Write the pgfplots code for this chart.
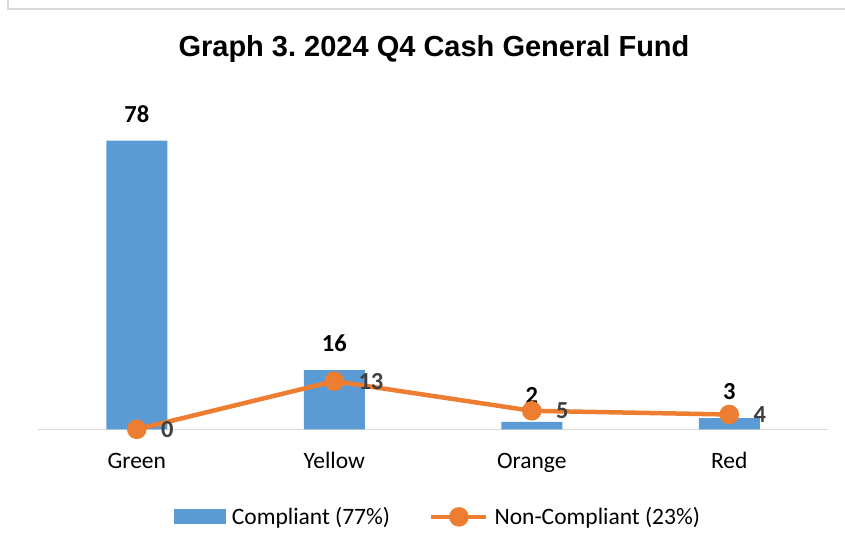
\documentclass[border=0pt]{standalone}
\usepackage{pgfplots}
\pgfplotsset{compat=1.18}
\usepackage{fontspec}
\setmainfont{Carlito}
\newfontfamily\arialfont{Liberation Sans}
\definecolor{cblue}{HTML}{5B9BD5}
\definecolor{corange}{HTML}{ED7D31}
\definecolor{clab}{HTML}{404040}
\definecolor{cgrid}{HTML}{D9D9D9}
\frenchspacing
\begin{document}
\begin{tikzpicture}
\useasboundingbox (0pt,0pt) rectangle (845pt,546pt);
\fill[white] (0pt,0pt) rectangle (845pt,546pt);
\draw[cgrid, line width=1.2pt] (8pt,546pt) -- (8pt,537pt) -- (845pt,537pt);
\node[font=\arialfont\bfseries\fontsize{29}{34}\selectfont, anchor=base, inner sep=0pt] at (434pt,489.3pt) {Graph 3. 2024 Q4 Cash General Fund};
\begin{axis}[
  at={(38pt,116.7pt)}, anchor=south west,
  scale only axis, width=790pt, height=333pt,
  xmin=-0.5, xmax=3.5, ymin=0, ymax=90,
  clip=false,
  axis y line=none, axis x line*=bottom,
  x axis line style={cgrid, line width=1.5pt},
  xtick={0,1,2,3}, xticklabels={Green,Yellow,Orange,Red},
  major tick length=0pt,
  xticklabel style={font=\fontsize{23.5}{28}\selectfont, anchor=base, inner sep=0pt, yshift=-39pt},
  /pgf/number format/assume math mode=true,
  legend columns=2,
  legend style={at={(0.505,-0.263)}, anchor=center, draw=none, fill=none,
    font=\fontsize{23.5}{28}\selectfont, inner sep=0pt,
    nodes={inner sep=0pt},
    /tikz/every odd column/.append style={column sep=6pt},
    /tikz/every even column/.append style={column sep=39pt}},
]
\addplot[ybar, bar width=61pt, bar shift=0pt, fill=cblue, draw=none,
  legend image code/.code={\fill[cblue] (0pt,-7.5pt) rectangle (52pt,7.5pt);},
  nodes near coords,
  nodes near coords style={font=\bfseries\fontsize{24.5}{29}\selectfont, text=black, inner sep=0pt, yshift=18pt}]
  coordinates {(0,78) (1,16) (2,2) (3,3)};
\addlegendentry{Compliant (77\%)}
\addplot[corange, line width=4.5pt, mark=*, mark size=7.5pt, mark options={draw=none, fill=corange},
  legend image code/.code={\draw[corange, line width=4.5pt] (0pt,0pt) -- (55pt,0pt); \fill[corange] (27.5pt,0pt) circle (7.5pt);},
  nodes near coords, nodes near coords align=horizontal,
  nodes near coords style={font=\bfseries\fontsize{24.5}{29}\selectfont, text=clab, inner sep=0pt, xshift=22pt}]
  coordinates {(0,0) (1,13) (2,5) (3,4)};
\addlegendentry{Non-Compliant (23\%)}
\end{axis}
\end{tikzpicture}
\end{document}
